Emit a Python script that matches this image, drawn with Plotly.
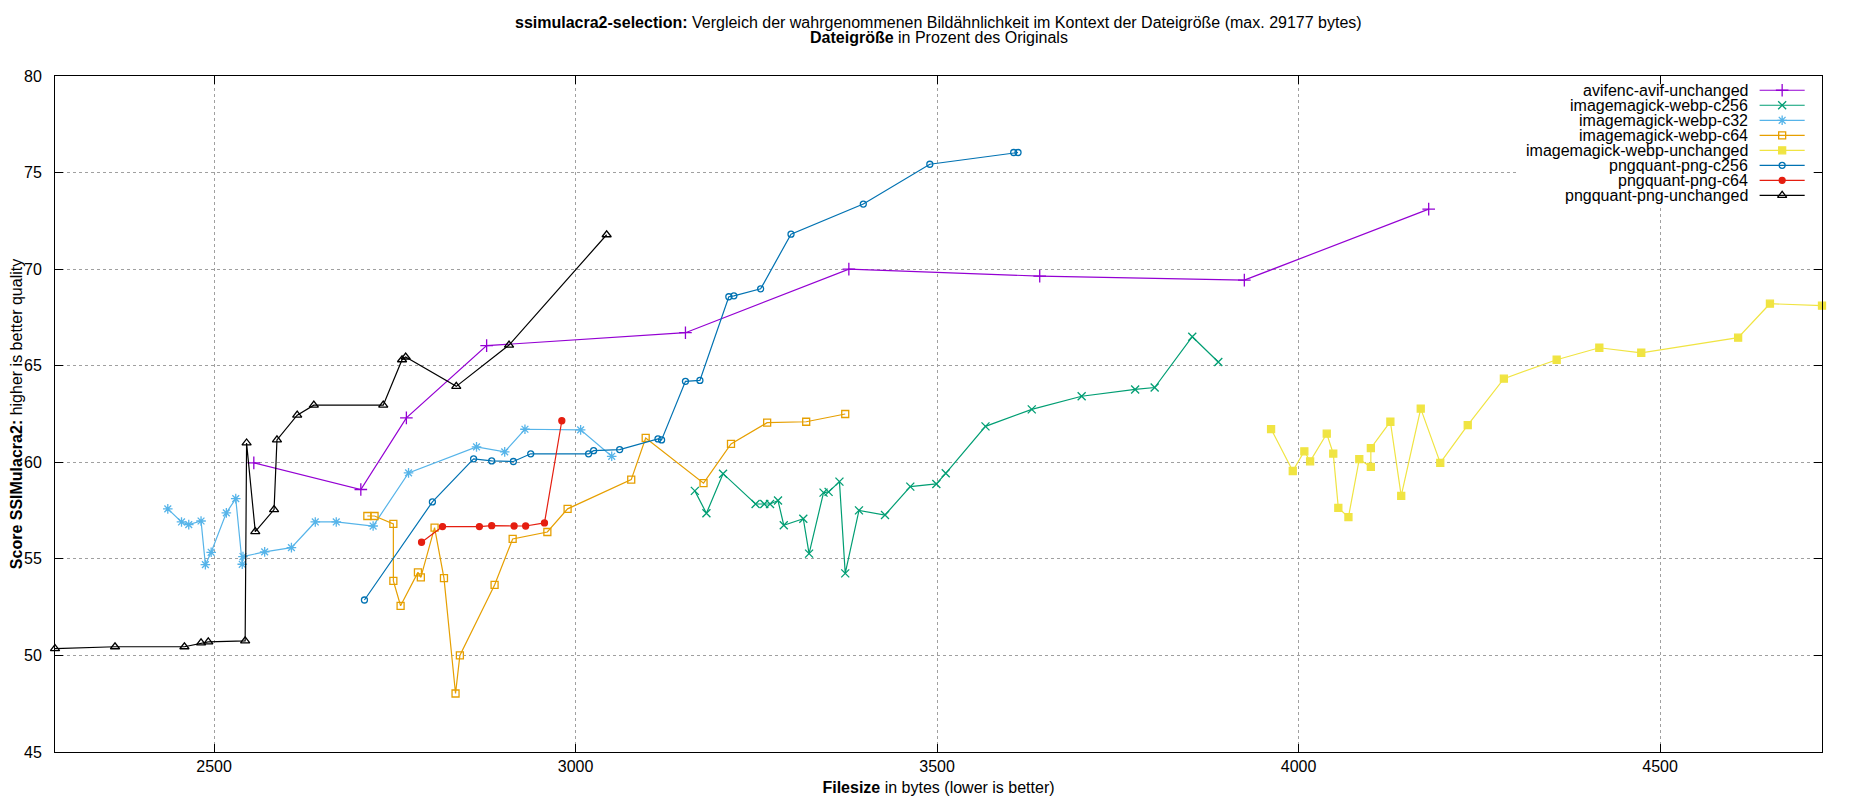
import plotly.graph_objects as go

# Werte: Dateigröße (bytes) und SSIMulacra2-Score
avif_unchanged_x = [2555, 2703, 2766, 2877, 3152, 3378, 3642, 3925, 4180]
avif_unchanged_y = [59.97, 58.59, 62.30, 66.04, 66.71, 70.00, 69.64, 69.43, 73.11]

webp_c256_x = [3165, 3181, 3204, 3249, 3261, 3269, 3280, 3288, 3315, 3323, 3343, 3350, 3365,
               3373, 3392, 3428, 3463, 3499, 3512, 3567, 3631, 3700, 3774, 3801, 3853, 3889]
webp_c256_y = [58.52, 57.36, 59.41, 57.84, 57.84, 57.84, 58.02, 56.74, 57.08, 55.27, 58.43, 58.47, 59.00,
               54.25, 57.51, 57.27, 58.74, 58.88, 59.43, 61.86, 62.74, 63.42, 63.77, 63.87, 66.50, 65.19]

webp_c32_x = [2436, 2455, 2465, 2482, 2488, 2496, 2517, 2530, 2539, 2540, 2570, 2607, 2640, 2669,
              2720, 2769, 2863, 2902, 2930, 3007, 3050]
webp_c32_y = [57.59, 56.91, 56.77, 56.96, 54.70, 55.34, 57.38, 58.12, 54.72, 55.12, 55.36, 55.58, 56.91, 56.91,
              56.70, 59.45, 60.80, 60.54, 61.71, 61.68, 60.31]

webp_c64_x = [2712, 2722, 2748, 2748, 2758, 2782, 2786, 2805, 2818, 2834, 2840, 2888, 2913, 2961,
              2989, 3077, 3097, 3177, 3215, 3265, 3319, 3373]
webp_c64_y = [57.22, 57.22, 56.81, 53.86, 52.57, 54.30, 54.04, 56.62, 54.00, 48.03, 50.00, 53.65, 56.03, 56.39,
              57.59, 59.10, 61.26, 58.92, 60.95, 62.05, 62.10, 62.50]

webp_unchanged_x = [3962, 3992, 4008, 4016, 4039, 4048, 4055, 4069, 4084, 4100, 4100, 4127, 4142, 4169,
                    4196, 4234, 4284, 4357, 4416, 4474, 4608, 4652, 4724]
webp_unchanged_y = [61.72, 59.55, 60.57, 60.05, 61.48, 60.45, 57.64, 57.16, 60.16, 59.76, 60.73, 62.10, 58.26, 62.78,
                    59.97, 61.92, 64.33, 65.31, 65.93, 65.67, 66.45, 68.21, 68.11]

png_c256_x = [2708, 2802, 2859, 2884, 2914, 2938, 3018, 3025, 3061, 3114, 3119, 3152, 3172, 3212,
              3219, 3256, 3298, 3398, 3490, 3606, 3612]
png_c256_y = [52.87, 57.95, 60.18, 60.07, 60.04, 60.44, 60.44, 60.60, 60.66, 61.21, 61.16, 64.19, 64.24, 68.57,
              68.62, 68.98, 71.81, 73.37, 75.43, 76.04, 76.04]

png_c64_x = [2787, 2816, 2867, 2884, 2915, 2931, 2957, 2981]
png_c64_y = [55.86, 56.67, 56.67, 56.72, 56.70, 56.70, 56.86, 62.15]

png_unchanged_x = [2280, 2363, 2459, 2482, 2492, 2543, 2545, 2557, 2583, 2587, 2615, 2638, 2734, 2760,
                   2765, 2835, 2908, 3043]
png_unchanged_y = [50.35, 50.45, 50.45, 50.65, 50.70, 50.75, 61.00, 56.41, 57.55, 61.16, 62.44, 62.96, 62.96, 65.31,
                   65.45, 63.93, 66.07, 71.78]

series_names = ["avifenc-avif-unchanged", "imagemagick-webp-c256", "imagemagick-webp-c32",
                "imagemagick-webp-c64", "imagemagick-webp-unchanged", "pngquant-png-c256",
                "pngquant-png-c64", "pngquant-png-unchanged"]
series_x = [avif_unchanged_x, webp_c256_x, webp_c32_x, webp_c64_x, webp_unchanged_x,
            png_c256_x, png_c64_x, png_unchanged_x]
series_y = [avif_unchanged_y, webp_c256_y, webp_c32_y, webp_c64_y, webp_unchanged_y,
            png_c256_y, png_c64_y, png_unchanged_y]

# gnuplot-Standardfarben und Punkttypen
colors = ["#9400d3", "#009e73", "#56b4e9", "#e69f00", "#f0e442", "#0072b2", "#e51e10", "#000000"]
symbols = ["cross-thin-open", "x-thin-open", "asterisk-open", "square-open", "square",
           "circle-open", "circle", "triangle-up-open"]
sizes = [9, 8, 8, 7, 7, 6, 6, 8]

FONT = "Liberation Sans, Arial, sans-serif"

fig = go.Figure()

for name, xs, ys, col, sym, sz in zip(series_names, series_x, series_y, colors, symbols, sizes):
    fig.add_trace(go.Scatter(
        x=xs, y=ys, mode="lines+markers", name=name, showlegend=False, cliponaxis=False,
        line=dict(color=col, width=1.2),
        marker=dict(symbol=sym, size=sz, color=col, line=dict(color=col, width=1.3)),
    ))

# Legende wie bei gnuplot: Text rechtsbündig, Muster rechts daneben (auf Overlay-Achsen 0..1)
box_x0, box_y0, box_x1, box_y1 = 0.828, 0.809, 0.995, 0.987
fig.add_trace(go.Scatter(
    x=[box_x0, box_x1, box_x1, box_x0, box_x0], y=[box_y0, box_y0, box_y1, box_y1, box_y0],
    xaxis="x2", yaxis="y2", mode="lines", fill="toself", fillcolor="white",
    line=dict(width=0, color="white"), showlegend=False, hoverinfo="skip",
))
text_x, line_x0, line_x1 = 0.9591, 0.9647, 0.9902
row_y0, row_dy = 0.9789, 0.0222
for i, (name, col, sym, sz) in enumerate(zip(series_names, colors, symbols, sizes)):
    ry = row_y0 - i * row_dy
    fig.add_trace(go.Scatter(
        x=[line_x0, line_x1], y=[ry, ry], xaxis="x2", yaxis="y2", mode="lines",
        line=dict(color=col, width=1.2), showlegend=False, hoverinfo="skip",
    ))
    fig.add_trace(go.Scatter(
        x=[(line_x0 + line_x1) / 2], y=[ry], xaxis="x2", yaxis="y2", mode="markers",
        marker=dict(symbol=sym, size=sz, color=col, line=dict(color=col, width=1.3)),
        showlegend=False, hoverinfo="skip",
    ))
    fig.add_annotation(x=text_x, y=ry, xref="paper", yref="paper", text=name, showarrow=False,
                       xanchor="right", yanchor="middle", font=dict(size=16, color="black"))

fig.add_annotation(
    x=0.5, y=1.0793, xref="paper", yref="paper", showarrow=False, yanchor="middle",
    text="<b>ssimulacra2-selection:</b> Vergleich der wahrgenommenen Bildähnlichkeit im Kontext der Dateigröße (max. 29177 bytes)",
    font=dict(size=16, color="black"))
fig.add_annotation(
    x=0.5, y=1.0571, xref="paper", yref="paper", showarrow=False, yanchor="middle",
    text="<b>Dateigröße</b> in Prozent des Originals", font=dict(size=16, color="black"))

all_x = [v for xs in series_x for v in xs]
axis_style = dict(
    showgrid=True, gridcolor="#a0a0a0", griddash="dot", gridwidth=1,
    showline=True, linecolor="black", linewidth=1, mirror="ticks",
    ticks="inside", ticklen=8, tickcolor="black", zeroline=False, automargin=False,
    tickfont=dict(size=16, color="black"),
)

# Seite hat 8px Body-Rand, daher Größe und Ränder entsprechend kleiner
fig.update_layout(
    width=1842, height=792,
    margin=dict(l=47, r=28, t=68, b=48),
    plot_bgcolor="white", paper_bgcolor="white",
    font=dict(family=FONT, size=16, color="black"),
    xaxis=dict(range=[min(all_x), max(all_x)], dtick=500,
               title=dict(text="<b>Filesize</b> in bytes (lower is better)", standoff=7,
                          font=dict(size=16)), **axis_style),
    yaxis=dict(range=[45, 80], dtick=5, ticklabelstandoff=9,
               title=dict(text="<b>Score SSIMulacra2:</b> higher is better quality", standoff=6,
                          font=dict(size=16)), **axis_style),
    xaxis2=dict(overlaying="x", range=[0, 1], visible=False),
    yaxis2=dict(overlaying="y", range=[0, 1], visible=False),
)

fig.write_html("out.html")
